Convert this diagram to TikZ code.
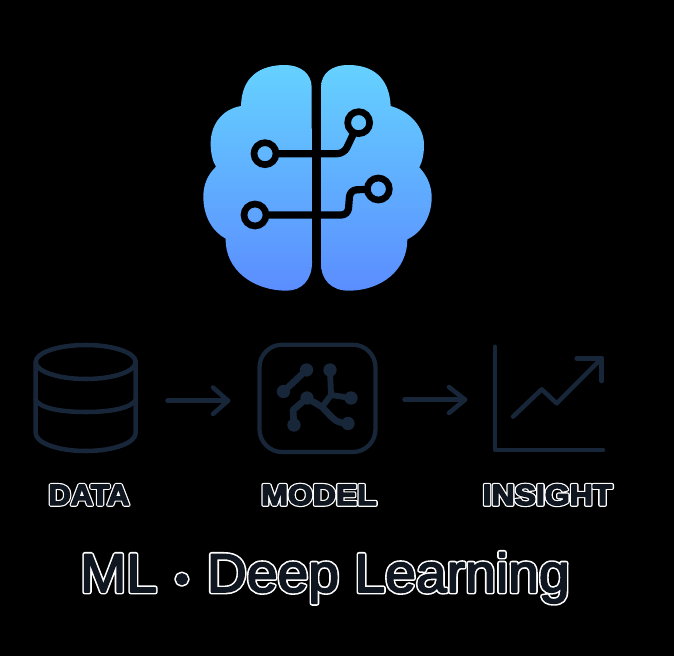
\documentclass[tikz,border=0pt]{standalone}
\usepackage{fontspec}
\setmainfont{Liberation Sans}
\definecolor{icon}{HTML}{18263A}
\definecolor{brt}{HTML}{65D1FF}
\definecolor{brb}{HTML}{5B8DFF}
\newcommand{\outlined}[3]{\rlap{\special{pdf:code q 1 j 1 J 1 Tr #1 w 1 1 1 RG 1 1 1 rg}#3\special{pdf:code 0 Tr Q}}\special{pdf:code q 1 j 1 J 2 Tr #2 w 0.063 0.086 0.122 RG 0.063 0.086 0.122 rg}#3\special{pdf:code 0 Tr Q}}
\tikzset{
  px/.style={x=0.75pt,y=-0.75pt},
  iconline/.style={draw=icon,line width=3.4pt,line cap=round,line join=round},
  thinicon/.style={draw=icon,line cap=round,line join=round},
  circuit/.style={draw=black,line width=5.4pt,line join=round},
  pad/.style={circle,draw=black,line width=5pt,minimum size=16.5pt,inner sep=0pt,outer sep=0pt},
  dot/.style={circle,fill=icon,minimum size=10pt,inner sep=0pt,outer sep=0pt},
  lbl/.style={anchor=base,inner sep=0pt,text=white,font=\fontsize{22pt}{22pt}\bfseries},
  title/.style={anchor=base,inner sep=0pt,text=white,font=\fontsize{41pt}{41pt}\selectfont},
}
\begin{document}
\begin{tikzpicture}[px]
\useasboundingbox (0,0) rectangle (674,656);
\fill[black] (0,0) rectangle (674,656);
% brain
\begin{scope}[x=0.25pt,y=-0.25pt,shift={(570,150)}]
\shade[top color=brt,bottom color=brb]
  (365,112) .. controls (365,70) and (330,45) .. (285,45)
  .. controls (210,45) and (155,80) .. (153,168)
  .. controls (95,178) and (62,225) .. (62,280)
  .. controls (62,310) and (68,335) .. (78,350)
  .. controls (52,375) and (40,405) .. (40,440)
  .. controls (40,500) and (68,545) .. (107,566)
  .. controls (105,660) and (190,722) .. (290,722)
  .. controls (335,722) and (365,690) .. (366,640) -- cycle;
\shade[top color=brt,bottom color=brb]
  (393,112) .. controls (393,70) and (425,45) .. (475,45)
  .. controls (545,45) and (598,80) .. (602,168)
  .. controls (660,185) and (702,230) .. (702,285)
  .. controls (702,312) and (697,335) .. (688,352)
  .. controls (712,378) and (725,408) .. (725,442)
  .. controls (725,500) and (695,548) .. (652,568)
  .. controls (652,660) and (575,722) .. (475,722)
  .. controls (425,722) and (393,690) .. (393,640) -- cycle;
\node[pad] (p1) at (225,311) {};
\node[pad] (p2) at (506,218) {};
\node[pad] (p3) at (565,417) {};
\node[pad] (p4) at (195,495) {};
\draw[circuit,rounded corners=5pt] (p1) -- (462,311) -- (p2);
\draw[circuit,rounded corners=5pt] (p4) -- (474,495) -- (480,420) -- (p3);
\end{scope}
% database
\coordinate (dbtop) at (85.7,362);
\draw[iconline] (dbtop) ellipse [x radius=50,y radius=17];
\draw[iconline] (35.7,362) -- (35.7,433) .. controls (35.7,443) and (58,451) .. (85.7,451) .. controls (113,451) and (135.7,443) .. (135.7,433) -- (135.7,362);
\draw[iconline] (35.7,400) .. controls (40,408) and (60,412) .. (85.7,412) .. controls (111,412) and (131,408) .. (135.7,400);
% arrows
\coordinate (a1s) at (167.5,400.7); \coordinate (a1e) at (228,400.7);
\coordinate (a1u) at (213,387.5); \coordinate (a1d) at (213,414);
\draw[iconline] (a1s) -- (a1e); \draw[iconline] (a1u) -- (a1e) -- (a1d);
\coordinate (a2s) at (404.5,399.7); \coordinate (a2e) at (465,399.7);
\coordinate (a2u) at (449,387); \coordinate (a2d) at (449,413);
\draw[iconline] (a2s) -- (a2e); \draw[iconline] (a2u) -- (a2e) -- (a2d);
% model icon
\draw[draw=icon,line width=3.2pt,rounded corners=17pt] (259.5,344.7) rectangle (375.5,452);
\node[dot] (n1) at (283.5,391.5) {};
\node[dot] (n2) at (306.5,370) {};
\node[dot] (n3) at (330,370) {};
\node[dot] (n4) at (351,398) {};
\node[dot] (n5) at (348,423.5) {};
\node[dot] (n6) at (294,425) {};
\node[dot] (n7) at (307,398) {};
\coordinate (j1) at (331,395);
\coordinate (j2) at (322,407);
\draw[thinicon,line width=5pt] (n1) -- (n2);
\draw[thinicon,line width=4.4pt] (n3) -- (j1) -- (n4);
\draw[thinicon,line width=4.4pt] (j1) -- (j2);
\draw[thinicon,line width=5pt] (n6) -- (293,410) -- (n7) -- (j2) .. controls (330,415) and (335,422) .. (n5);
% chart
\coordinate (ax1) at (495,346.7); \coordinate (ax2) at (495,450); \coordinate (ax3) at (603,450);
\draw[iconline] (ax1) -- (ax2) -- (ax3);
\coordinate (c1) at (513,416.7); \coordinate (c2) at (541.7,389.3); \coordinate (c3) at (556.7,403.3); \coordinate (c4) at (601.7,358.3);
\coordinate (h1) at (576.7,358.3); \coordinate (h2) at (601.7,381);
\draw[iconline] (c1) -- (c2) -- (c3) -- (c4);
\draw[iconline] (h1) -- (c4) -- (h2);
% text
\node[lbl,xscale=1.05,transform shape] (tdata) at (89,505) {\outlined{2.8}{1.0}{DATA}};
\node[lbl,xscale=1.09,transform shape] (tmodel) at (319,505) {\outlined{2.8}{1.0}{MODEL}};
\node[lbl,xscale=1.09,transform shape] (tinsight) at (547.5,505) {\outlined{2.8}{1.0}{INSIGHT}};
\node[title,xscale=1.012,transform shape] (ttitle) at (325,592) {\outlined{3.6}{1.2}{ML {\kern2pt\fontsize{29pt}{29pt}\selectfont •\kern2pt} Deep Learning}};
\end{tikzpicture}
\end{document}
